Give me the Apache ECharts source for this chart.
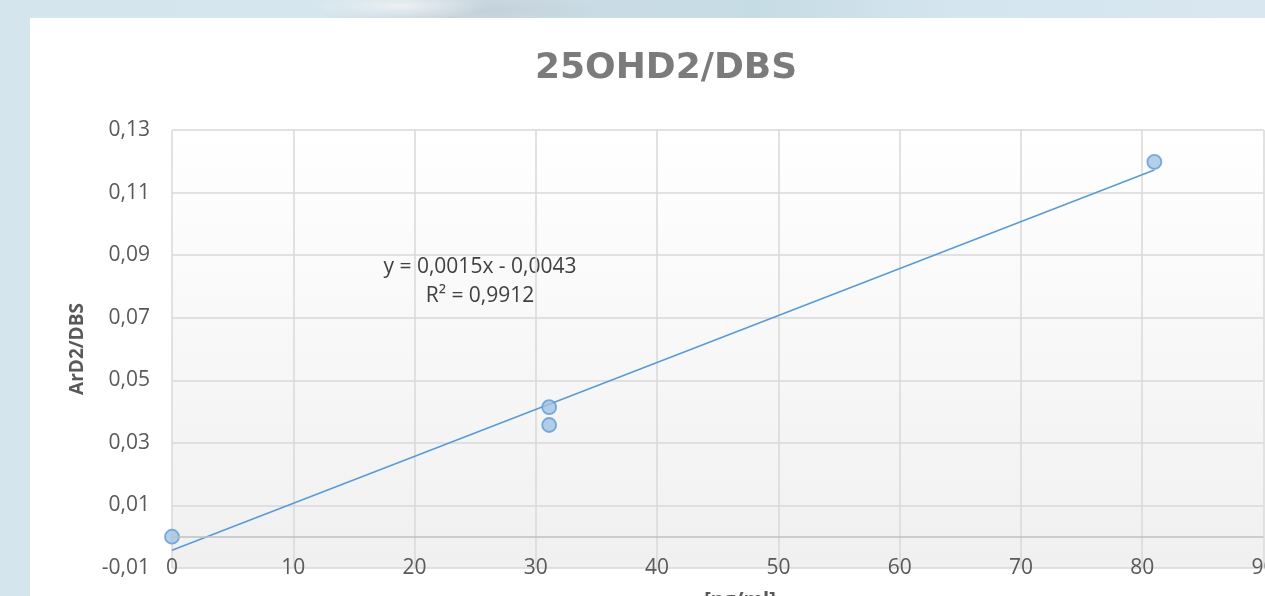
<!DOCTYPE html>
<html><head><meta charset="utf-8">
<script src="https://cdn.jsdelivr.net/npm/echarts@6/dist/echarts.min.js"></script>
<style>
html,body{margin:0;padding:0;width:1265px;height:596px;overflow:hidden;}
body{position:relative;
background:
 radial-gradient(ellipse 90px 14px at 400px 6px, rgba(240,244,246,0.9), rgba(240,244,246,0) 100%),
 radial-gradient(ellipse 140px 16px at 470px 10px, rgba(190,200,210,0.6), rgba(190,200,210,0) 100%),
 linear-gradient(90deg,#d4e5ee 0%,#d6e6ee 25%,#ccdbe4 35%,#c6dce5 60%,#d5e5ef 75%,#d8e7f0 100%);}
#card{position:absolute;left:30px;top:18px;width:1235px;height:578px;background:#fff;}
#chart{width:1235px;height:578px;}
</style></head>
<body><div id="card"><div id="chart"></div></div>
<script>
const title = '25OHD2/DBS';
const xName = '[ng/ml]';
const yName = 'ArD2/DBS';
const xValues = [0, 31.1, 31.1, 81];
const yValues = [0.0, 0.0414, 0.0357, 0.1198];
const slope = 0.0015;
const intercept = -0.0043;
const eqText = 'y = 0,0015x - 0,0043';
const r2Text = 'R² = 0,9912';
const trendX = [0, 81];

const pts = xValues.map((x, i) => [x, yValues[i]]);
const trend = trendX.map(x => [x, slope * x + intercept]);
const fmt = v => String(v).replace('.', ',');
const font = "'Open Sans', sans-serif";

const chart = echarts.init(document.getElementById('chart'));
chart.setOption({
  animation: false,
  title: {
    text: title, left: 500, top: 28,
    textStyle: {fontFamily: "'DejaVu Sans', sans-serif", fontWeight: 'bold', fontSize: 36, color: '#7b7b7b'}
  },
  grid: {
    left: 142, top: 112, right: 1.5, bottom: 28, show: true, borderWidth: 0,
    containLabel: false, outerBoundsMode: 'none',
    backgroundColor: {type: 'linear', x: 0, y: 0, x2: 0, y2: 1,
      colorStops: [{offset: 0, color: '#ffffff'}, {offset: 1, color: '#f0f0f0'}]}
  },
  xAxis: {
    type: 'value', min: 0, max: 90, interval: 10,
    axisLine: {show: false}, axisTick: {show: false},
    axisLabel: {margin: 0, verticalAlign: 'middle', fontFamily: font, fontSize: 21, color: '#595959', formatter: v => fmt(v)},
    splitLine: {show: true, lineStyle: {color: '#d9d9d9', width: 1.5}}
  },
  yAxis: {
    type: 'value', min: -0.01, max: 0.13, interval: 0.02,
    name: yName, nameLocation: 'middle', nameGap: 85, nameRotate: 90,
    nameTextStyle: {fontFamily: font, fontWeight: 'bold', fontSize: 19, color: '#595959'},
    axisLine: {show: false}, axisTick: {show: false},
    axisLabel: {margin: 22, fontFamily: font, fontSize: 21, color: '#595959',
      formatter: v => fmt(Math.round(v * 100) / 100)},
    splitLine: {show: true, lineStyle: {color: '#d9d9d9', width: 1.5}}
  },
  graphic: [
    {type: 'text', x: 450, y: 267.5 - 18, style: {text: eqText, font: "21px 'Open Sans', sans-serif", fill: '#404040', align: 'center', verticalAlign: 'middle'}},
    {type: 'text', x: 450, y: 296 - 18, style: {text: r2Text, font: "21px 'Open Sans', sans-serif", fill: '#404040', align: 'center', verticalAlign: 'middle'}},
    {type: 'text', x: 710, y: 572, style: {text: xName, font: "bold 20px 'Open Sans', sans-serif", fill: '#595959', align: 'center', verticalAlign: 'top'}}
  ],
  series: [
    {
      type: 'line', data: trend, showSymbol: false, symbol: 'none',
      lineStyle: {color: '#5b9bd5', width: 1.6}, z: 3,
      markLine: {silent: true, symbol: 'none', label: {show: false},
        lineStyle: {color: '#bfbfbf', width: 1.5, type: 'solid'}, data: [{yAxis: 0}]}
    },
    {
      type: 'scatter', data: pts, symbol: 'circle', symbolSize: 14,
      itemStyle: {color: '#a2c3e6', borderColor: '#5b9bd5', borderWidth: 1.8}, z: 4
    }
  ]
});
</script></body></html>
